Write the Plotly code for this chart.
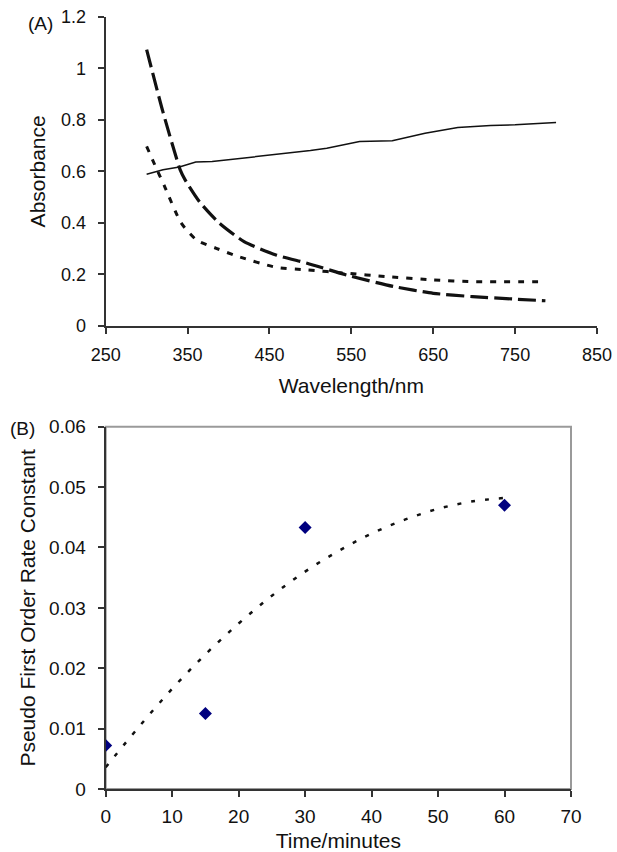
import plotly.graph_objects as go

# ---------------- Panel (A) data: absorbance spectra ----------------
wl_solid = [300, 320, 340, 360, 380, 400, 450, 500, 520, 560, 600, 640, 680, 720, 750, 800]
abs_solid = [0.589, 0.606, 0.617, 0.636, 0.638, 0.645, 0.662, 0.681, 0.690, 0.716, 0.719, 0.748, 0.770, 0.778, 0.781, 0.790]

wl_dash = [300, 320, 341, 347, 365, 388, 419, 458, 496, 544, 602, 650, 698, 746, 787]
abs_dash = [1.073, 0.830, 0.606, 0.567, 0.480, 0.401, 0.327, 0.275, 0.243, 0.197, 0.152, 0.126, 0.113, 0.104, 0.097]

wl_dot = [300, 310, 322, 342, 361, 385, 410, 458, 496, 544, 592, 650, 698, 787]
abs_dot = [0.697, 0.625, 0.541, 0.400, 0.333, 0.301, 0.271, 0.227, 0.217, 0.204, 0.191, 0.178, 0.171, 0.171]

# ---------------- Panel (B) data: rate constants ----------------
time_min = [0, 15, 30, 60]
rate_k = [0.0072, 0.0125, 0.0433, 0.0470]

# trendline
trend_t = [0, 5, 10, 15, 20, 25, 30, 35, 40, 45, 50, 55, 60]
trend_k = [0.0036, 0.0103, 0.0166, 0.0223, 0.0274, 0.0320, 0.0360, 0.0394, 0.0423, 0.0446, 0.0464, 0.0476, 0.0482]

x_ticks_a = [250, 350, 450, 550, 650, 750, 850]
y_ticks_a = [0, 0.2, 0.4, 0.6, 0.8, 1, 1.2]
x_ticks_b = [0, 10, 20, 30, 40, 50, 60, 70]
y_ticks_b = [0, 0.01, 0.02, 0.03, 0.04, 0.05, 0.06]

FONT = "Liberation Sans, Arial, sans-serif"
INK = "#111111"
AXIS = "#333333"

W, H = 617, 852
def px_x(p):
    return p / W
def px_y(p):
    return 1 - p / H

fig = go.Figure()

fig.add_trace(go.Scatter(x=wl_solid, y=abs_solid, mode="lines",
                         line=dict(color=INK, width=1.5), xaxis="x", yaxis="y",
                         showlegend=False, hoverinfo="skip"))
fig.add_trace(go.Scatter(x=wl_dash, y=abs_dash, mode="lines",
                         line=dict(color=INK, width=3.2, dash="18px,6px", shape="spline", smoothing=0.6),
                         xaxis="x", yaxis="y", showlegend=False, hoverinfo="skip"))
fig.add_trace(go.Scatter(x=wl_dot, y=abs_dot, mode="lines",
                         line=dict(color=INK, width=3, dash="6px,8px", shape="spline", smoothing=0.6),
                         xaxis="x", yaxis="y", showlegend=False, hoverinfo="skip"))

fig.add_trace(go.Scatter(x=trend_t, y=trend_k, mode="lines",
                         line=dict(color=INK, width=2.5, dash="4px,10px", shape="spline"),
                         xaxis="x2", yaxis="y2", showlegend=False, hoverinfo="skip"))
fig.add_trace(go.Scatter(x=time_min, y=rate_k, mode="markers",
                         marker=dict(symbol="diamond", size=10, color="#00007f"),
                         xaxis="x2", yaxis="y2", showlegend=False))

axis_common = dict(showgrid=False, zeroline=False, showline=True, linecolor=AXIS, linewidth=2,
                   ticks="outside", ticklen=6, tickwidth=2, tickcolor=AXIS, automargin=False)

fig.update_layout(
    width=W, height=H,
    margin=dict(l=0, r=0, t=0, b=0, autoexpand=False),
    paper_bgcolor="white", plot_bgcolor="white",
    font=dict(family=FONT, color=INK),
    xaxis=dict(domain=[px_x(105.7), px_x(597)], range=[250, 850], tickvals=x_ticks_a,
               anchor="y", tickfont=dict(size=18), ticklabelstandoff=6,
               title=dict(text="Wavelength/nm", font=dict(size=21), standoff=14), **axis_common),
    yaxis=dict(domain=[px_y(325.7), px_y(17)], range=[0, 1.2], tickvals=y_ticks_a,
               ticktext=["0", "0.2", "0.4", "0.6", "0.8", "1", "1.2"],
               anchor="x", tickfont=dict(size=18), ticklabelstandoff=8,
               title=dict(text="Absorbance", font=dict(size=21), standoff=10), **axis_common),
    xaxis2=dict(domain=[px_x(105.7), px_x(571)], range=[0, 70], tickvals=x_ticks_b,
                anchor="y2", tickfont=dict(size=19), ticklabelstandoff=3,
                title=dict(text="Time/minutes", font=dict(size=21), standoff=16), **axis_common),
    yaxis2=dict(domain=[px_y(789), px_y(426.7)], range=[0, 0.06], tickvals=y_ticks_b,
                ticktext=["0", "0.01", "0.02", "0.03", "0.04", "0.05", "0.06"],
                anchor="x2", tickfont=dict(size=19), ticklabelstandoff=8,
                title=dict(text="Pseudo First Order Rate Constant", font=dict(size=21), standoff=8),
                **axis_common),
)

# gray plot-area frame of panel (B)
fig.add_shape(type="rect", xref="x2 domain", yref="y2 domain", x0=0, x1=1, y0=0, y1=1,
              line=dict(color="#9a9a9a", width=2), layer="below")

fig.add_annotation(text="(A)", xref="paper", yref="paper", x=px_x(40), y=px_y(24),
                   xanchor="center", yanchor="middle",
                   showarrow=False, font=dict(size=19, family=FONT, color=INK))
fig.add_annotation(text="(B)", xref="paper", yref="paper", x=px_x(22.5), y=px_y(428),
                   xanchor="center", yanchor="middle",
                   showarrow=False, font=dict(size=19, family=FONT, color=INK))

fig.write_html("out.html", config={"displayModeBar": False},
               post_script="document.body.style.margin='0';document.body.style.overflow='hidden';")
